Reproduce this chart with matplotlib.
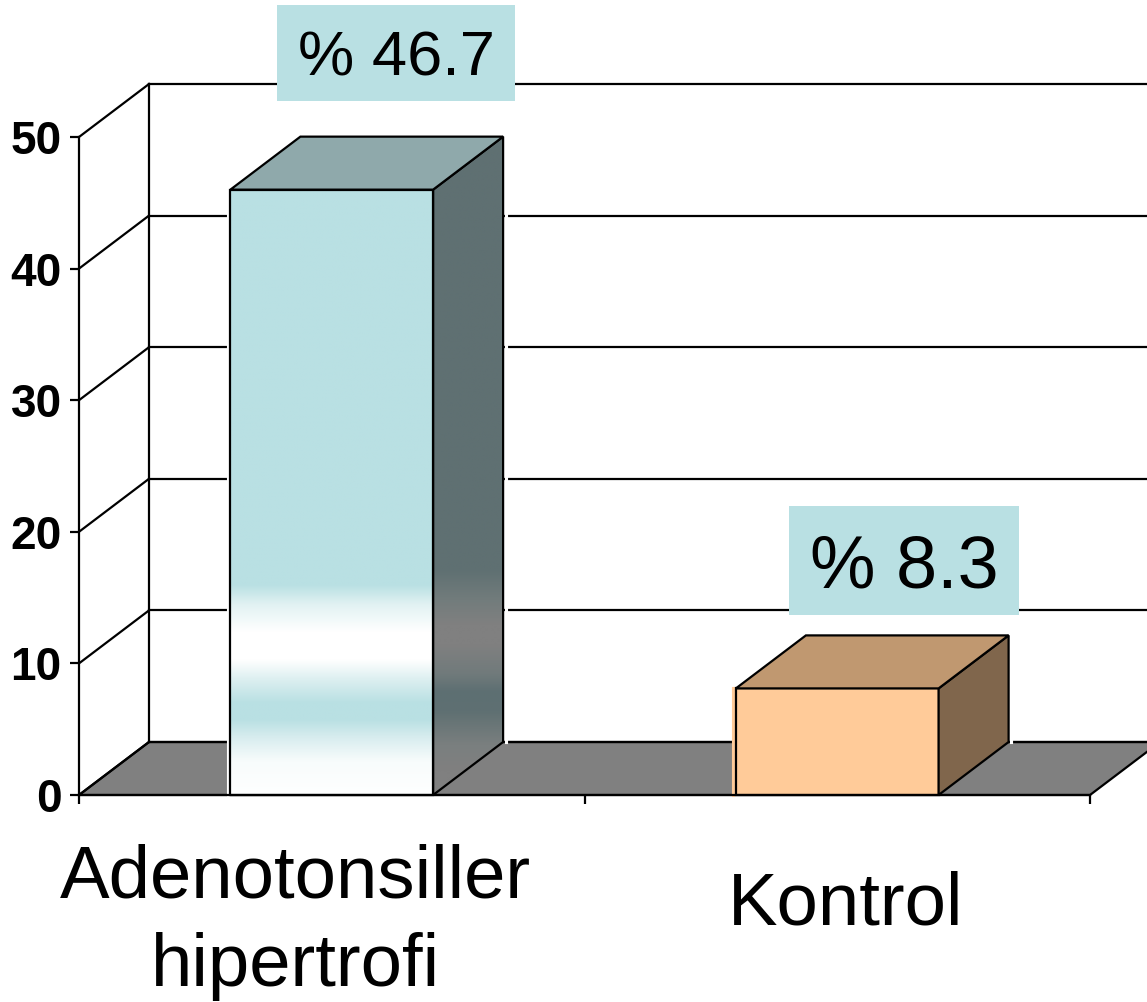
import numpy as np
import matplotlib
matplotlib.use("Agg")
import matplotlib.pyplot as plt
from matplotlib.colors import LinearSegmentedColormap, to_rgb
from matplotlib.patches import Polygon, Rectangle

plt.rcParams['font.family'] = ['Liberation Sans', 'DejaVu Sans']

# ---- data ----
categories = ["Adenotonsiller\nhipertrofi", "Kontrol"]
bar_values = [46.0, 8.1]
value_labels = ["% 46.7", "% 8.3"]
y_ticks = [0, 10, 20, 30, 40, 50]

# ---- layout (pixels of the reference -> data units) ----
W, H = 1147, 1002
X0_PX, CAT_PX = 79.0, 505.5
Y0_PX, UNIT_PX = 795.0, 13.16
DX = 70 / CAT_PX
DY = 53 / UNIT_PX
BAR_W = 0.401
LW = 1.6


def xd(px):
    return (px - X0_PX) / CAT_PX


def yd(py):
    return (Y0_PX - py) / UNIT_PX


fig = plt.figure(figsize=(W / 100, H / 100), dpi=100, facecolor="white")
ax = fig.add_axes([0, 0, 1, 1])
ax.set_facecolor("white")

n = len(categories)
XMAX = float(n)
YMAX = float(y_ticks[-1])

# floor
ax.add_patch(Polygon([(0, 0), (XMAX, 0), (XMAX + DX, DY), (DX, DY)], closed=True,
                     facecolor="#808080", edgecolor="black", lw=LW, zorder=1))
# back wall: grid + side wall
for v in y_ticks:
    ax.plot([DX, XMAX + DX], [v + DY, v + DY], color="black", lw=LW, zorder=1.5)
    ax.plot([0, DX], [v, v + DY], color="black", lw=LW, zorder=1.5)
ax.plot([DX, DX], [DY, YMAX + DY], color="black", lw=LW, zorder=1.5)


def gradient_face(stops, polygon, x0, x1, zorder):
    """Vertical gradient clipped to a polygon."""
    ys = np.array([s[0] for s in stops], dtype=float)
    cols = [to_rgb(s[1]) for s in stops]
    lo, hi = ys.min(), ys.max()
    cmap = LinearSegmentedColormap.from_list(
        "g", [((y - lo) / (hi - lo), c) for y, c in sorted(zip(ys, cols), key=lambda t: t[0])], N=512)
    img = ax.imshow(np.linspace(1, 0, 512)[:, None], cmap=cmap, vmin=0, vmax=1,
                    extent=(x0, x1, lo, hi), aspect="auto", zorder=zorder,
                    interpolation="bilinear")
    patch = Polygon(polygon, closed=True, transform=ax.transData, facecolor="none", edgecolor="none")
    ax.add_patch(patch)
    img.set_clip_path(patch)


BLUE = "#b9e0e3"
DARK = "#5f7072"
GREY = "#808080"
front_stops_1 = [(yd(y), c) for y, c in [
    (185, BLUE), (585, BLUE), (605, "#e2f2f3"), (632, "#ffffff"), (660, "#ffffff"), (680, "#dcefF0"),
    (703, BLUE), (720, BLUE), (738, "#d8edef"), (762, "#f8fcfc"), (800, "#ffffff")]]
side_stops_1 = [(yd(y), c) for y, c in [
    (130, DARK), (570, DARK), (600, "#727c7c"), (625, GREY), (645, GREY), (675, "#707a7b"),
    (692, "#5d6f72"), (712, "#5f7072"), (745, "#7a7f7f"), (770, GREY), (800, GREY)]]

styles = [
    dict(front=None, side=None, top="#8fa9ab", left_halo="white"),
    dict(front="#ffcb99", side="#80664c", top="#c09870", left_halo="#ffcb99"),
]
HALO = 2.5 / CAT_PX

for i, (val, st) in enumerate(zip(bar_values, styles)):
    l = i + 0.5 - BAR_W / 2
    r = i + 0.5 + BAR_W / 2
    front = [(l, 0), (r, 0), (r, val), (l, val)]
    side = [(r, 0), (r + DX, DY), (r + DX, val + DY), (r, val)]
    top = [(l, val), (r, val), (r + DX, val + DY), (l + DX, val + DY)]
    # thin light halo left and right of the bar, seen in the reference
    ax.plot([l - HALO, l - HALO], [0, val], color=st["left_halo"], lw=LW * 1.4, zorder=2)
    ax.plot([r + DX + HALO, r + DX + HALO], [DY, val + DY], color="white", lw=LW * 1.4, zorder=2)
    if i == 0:
        gradient_face(front_stops_1, front, l, r, 3)
        gradient_face(side_stops_1, side, r, r + DX, 3)
        ax.add_patch(Polygon(front, closed=True, facecolor="none", edgecolor="black", lw=LW, zorder=4))
        ax.add_patch(Polygon(side, closed=True, facecolor="none", edgecolor="black", lw=LW, zorder=4))
    else:
        ax.add_patch(Polygon(front, closed=True, facecolor=st["front"], edgecolor="black", lw=LW, zorder=4))
        ax.add_patch(Polygon(side, closed=True, facecolor=st["side"], edgecolor="black", lw=LW, zorder=4))
    ax.add_patch(Polygon(top, closed=True, facecolor=st["top"], edgecolor="black", lw=LW, zorder=4))

# value-label boxes
boxes = [(277, 5, 515, 101), (789, 506, 1019, 615)]
text_sizes = [45.5, 53]
text_centres = [(396, 59), (904, 568)]
for lab, (x0, y0, x1, y1), fs, (cx, cy) in zip(value_labels, boxes, text_sizes, text_centres):
    ax.add_patch(Rectangle((xd(x0), yd(y1)), xd(x1) - xd(x0), yd(y0) - yd(y1),
                           facecolor=BLUE, edgecolor="none", zorder=5))
    ax.text(xd(cx), yd(cy), lab, fontsize=fs, ha="center", va="center", color="black", zorder=6)

# category labels
cat_pos = [(295, 922), (846, 905)]
for cat, (cx, cy) in zip(categories, cat_pos):
    ax.text(xd(cx), yd(cy), cat, fontsize=53.6, ha="center", va="center", color="black",
            linespacing=1.36, zorder=6)

# axes
ax.set_xlim(xd(0), xd(W))
ax.set_ylim(yd(H), yd(0))
for s in ("top", "right"):
    ax.spines[s].set_visible(False)
ax.spines["bottom"].set_position(("data", 0))
ax.spines["left"].set_position(("data", 0))
ax.spines["bottom"].set_bounds(0, XMAX)
ax.spines["left"].set_bounds(0, YMAX)
for s in ("bottom", "left"):
    ax.spines[s].set_linewidth(LW)
    ax.spines[s].set_zorder(4.5)
ax.set_xticks(range(n + 1))
ax.set_xticklabels([])
ax.set_yticks(y_ticks)
ax.set_yticklabels([str(v) for v in y_ticks], fontweight="bold", fontsize=33)
ax.tick_params(axis="both", direction="out", length=6.5, width=LW, pad=6)
ax.tick_params(axis="x", labelbottom=False)

fig.savefig("out.png", dpi=100, facecolor="white")
